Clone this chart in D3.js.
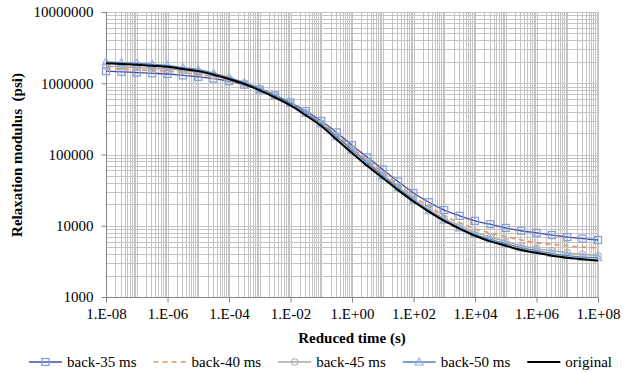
<!DOCTYPE html>
<html>
<head>
<meta charset="utf-8">
<script src="https://cdn.jsdelivr.net/npm/d3@7"></script>
<style>
  body { margin: 0; background: #fff; }
  svg { display: block; }
  svg text { font-family: "Times New Roman", "Liberation Serif", "DejaVu Serif", serif; fill: #000; }
  .axis path { display: none; }
  .axis line { stroke: #868686; }
  .axis text { font-size: 15px; }
</style>
</head>
<body>
<script>
// reduced time, as log10 exponents (half decades)
var timeExp = [-8, -7.5, -7, -6.5, -6, -5.5, -5, -4.5, -4, -3.5, -3, -2.5, -2, -1.5, -1, -0.5,
               0, 0.5, 1, 1.5, 2, 2.5, 3, 3.5, 4, 4.5, 5, 5.5, 6, 6.5, 7, 7.5, 8];

// relaxation modulus (psi)
var back35 = [1479000, 1445000, 1413000, 1380000, 1349000, 1288000, 1230000, 1161000, 1072000, 955000,
              813000, 676000, 537000, 407000, 295000, 204000, 135000, 91200, 61700, 41700,
              28800, 21400, 16600, 13800, 11700, 10500, 9330, 8510, 7940, 7410, 6920, 6610, 6310];
var back40 = [1622000, 1585000, 1549000, 1514000, 1479000, 1413000, 1318000, 1230000, 1096000, 955000,
              813000, 661000, 525000, 389000, 282000, 191000, 126000, 83200, 56200, 38000,
              25700, 18600, 13800, 11000, 9120, 7940, 7080, 6310, 5750, 5500, 5250, 5010, 4900];
var back45 = [1738000, 1698000, 1660000, 1622000, 1585000, 1514000, 1413000, 1288000, 1148000, 1000000,
              832000, 676000, 525000, 389000, 275000, 182000, 120000, 79400, 52500, 35500,
              24000, 17000, 12600, 10000, 8130, 6920, 6030, 5250, 4790, 4470, 4170, 3980, 3800];
var back50 = [1995000, 1950000, 1905000, 1841000, 1778000, 1660000, 1549000, 1380000, 1202000, 1023000,
              851000, 676000, 525000, 380000, 269000, 178000, 115000, 75900, 50100, 33900,
              22900, 16200, 12000, 9330, 7590, 6460, 5620, 4900, 4470, 4070, 3800, 3630, 3550];
var original = [1905000, 1862000, 1820000, 1758000, 1698000, 1585000, 1479000, 1318000, 1148000, 977000,
                794000, 631000, 490000, 355000, 251000, 162000, 105000, 69200, 46800, 31600,
                21900, 15800, 11700, 9120, 7240, 6030, 5250, 4570, 4170, 3800, 3550, 3390, 3240];

var xTickValues = [1e-8, 1e-6, 1e-4, 1e-2, 1e0, 1e2, 1e4, 1e6, 1e8];
var xTickLabels = ["1.E-08", "1.E-06", "1.E-04", "1.E-02", "1.E+00", "1.E+02", "1.E+04", "1.E+06", "1.E+08"];
var yTickValues = [1e3, 1e4, 1e5, 1e6, 1e7];
var yTickLabels = ["1000", "10000", "100000", "1000000", "10000000"];

(function(){

var seriesList = [
    {name: "back-35 ms", values: back35, color: "#4a4aa6", width: 1.3, dash: null, marker: "square", mcolor: "#7f9fdc"},
    {name: "back-40 ms", values: back40, color: "#e8955a", width: 1.6, dash: "5,4", marker: null},
    {name: "back-45 ms", values: back45, color: "#a6a6a6", width: 1.3, dash: null, marker: "circle", mcolor: "#b0b0b0"},
    {name: "back-50 ms", values: back50, color: "#4f81bd", width: 1.3, dash: null, marker: "triangle", mcolor: "#8fb0dc"},
    {name: "original", values: original, color: "#000000", width: 2, dash: null, marker: null}
];

var width = 624, height = 372;
var pLeft = 106, pRight = 598, pTop = 12, pBottom = 297;
var serif = '"Times New Roman", "Liberation Serif", "DejaVu Serif", serif';

var svg = d3.select("body").append("svg")
    .attr("width", width)
    .attr("height", height);

var x = d3.scaleLog().domain([1e-8, 1e8]).range([pLeft, pRight]);
var y = d3.scaleLog().domain([1e3, 1e7]).range([pBottom, pTop]);

// gridlines: every 1..9 in each decade
var xGrid = [], yGrid = [];
for (var d = -8; d < 8; d++) for (var k = 1; k < 10; k++) xGrid.push(k * Math.pow(10, d));
xGrid.push(1e8);
for (var d2 = 3; d2 < 7; d2++) for (var k2 = 1; k2 < 10; k2++) yGrid.push(k2 * Math.pow(10, d2));
yGrid.push(1e7);

var grid = svg.append("g").attr("class", "grid");
grid.selectAll(".gx").data(xGrid).enter().append("line")
    .attr("x1", v => Math.round(x(v)) + 0.5).attr("x2", v => Math.round(x(v)) + 0.5)
    .attr("y1", pTop).attr("y2", pBottom)
    .attr("stroke", "#c4c4c4").attr("stroke-width", 1);
grid.selectAll(".gy").data(yGrid).enter().append("line")
    .attr("y1", v => Math.round(y(v)) + 0.5).attr("y2", v => Math.round(y(v)) + 0.5)
    .attr("x1", pLeft).attr("x2", pRight)
    .attr("stroke", "#c4c4c4").attr("stroke-width", 1);

// axis lines
svg.append("line").attr("x1", pLeft + 0.5).attr("x2", pLeft + 0.5).attr("y1", pTop).attr("y2", pBottom + 0.5)
    .attr("stroke", "#868686");
svg.append("line").attr("x1", pLeft).attr("x2", pRight + 0.5).attr("y1", pBottom + 0.5).attr("y2", pBottom + 0.5)
    .attr("stroke", "#868686");

var xAxis = svg.append("g")
    .attr("class", "axis")
    .attr("transform", `translate(0, ${pBottom + 0.5})`)
    .call(d3.axisBottom(x).tickValues(xTickValues).tickSize(5).tickPadding(6)
        .tickFormat((v, i) => xTickLabels[i]));

var yAxis = svg.append("g")
    .attr("class", "axis")
    .attr("transform", `translate(${pLeft + 0.5}, 0)`)
    .call(d3.axisLeft(y).tickValues(yTickValues).tickSize(5).tickPadding(8)
        .tickFormat((v, i) => yTickLabels[i]));

xAxis.attr("font-family", serif).attr("font-size", 15);
yAxis.attr("font-family", serif).attr("font-size", 15);

// titles
svg.append("text")
    .attr("x", 352).attr("y", 343)
    .attr("text-anchor", "middle")
    .attr("font-family", serif)
    .style("font-size", "15px").style("font-weight", "bold")
    .text("Reduced time (s)");

svg.append("text")
    .attr("transform", "translate(22, 155) rotate(-90)")
    .attr("text-anchor", "middle")
    .attr("font-family", serif)
    .style("font-size", "15px").style("font-weight", "bold")
    .style("white-space", "pre")
    .text("Relaxation modulus  (psi)");

// series
var line = d3.line()
    .x((v, i) => x(Math.pow(10, timeExp[i])))
    .y(v => y(v))
    .curve(d3.curveMonotoneX);

function drawMarker(g, type, cx, cy, color){
    if (type === "square") {
        g.append("rect").attr("x", cx - 3.5).attr("y", cy - 3.5).attr("width", 7).attr("height", 7)
            .attr("fill", "none").attr("stroke", color).attr("stroke-width", 1.2);
    } else if (type === "circle") {
        g.append("circle").attr("cx", cx).attr("cy", cy).attr("r", 3.2)
            .attr("fill", "none").attr("stroke", color).attr("stroke-width", 1.1);
    } else if (type === "triangle") {
        g.append("path")
            .attr("d", `M${cx},${cy - 4}L${cx + 4},${cy + 3}L${cx - 4},${cy + 3}Z`)
            .attr("fill", "none").attr("stroke", color).attr("stroke-width", 1.1);
    }
}

seriesList.forEach(s => {
    var g = svg.append("g").attr("class", "series");
    g.append("path")
        .datum(s.values)
        .attr("d", line)
        .attr("fill", "none")
        .attr("stroke", s.color)
        .attr("stroke-width", s.width)
        .attr("stroke-dasharray", s.dash);
    if (s.marker) {
        s.values.forEach((v, i) => drawMarker(g, s.marker, x(Math.pow(10, timeExp[i])), y(v), s.mcolor));
    }
});

// legend
var legend = svg.append("g").attr("class", "legend");
var lx = 29, ly = 362;
seriesList.forEach(s => {
    var item = legend.append("g");
    item.append("line")
        .attr("x1", lx).attr("x2", lx + 33).attr("y1", ly).attr("y2", ly)
        .attr("stroke", s.color).attr("stroke-width", s.width)
        .attr("stroke-dasharray", s.dash);
    if (s.marker) drawMarker(item, s.marker, lx + 16.5, ly, s.mcolor);
    var t = item.append("text")
        .attr("x", lx + 38).attr("y", ly + 5)
        .attr("font-family", serif)
        .style("font-size", "15px")
        .text(s.name);
    lx += 38 + t.node().getComputedTextLength() + 17;
});

})();
</script>
</body>
</html>
